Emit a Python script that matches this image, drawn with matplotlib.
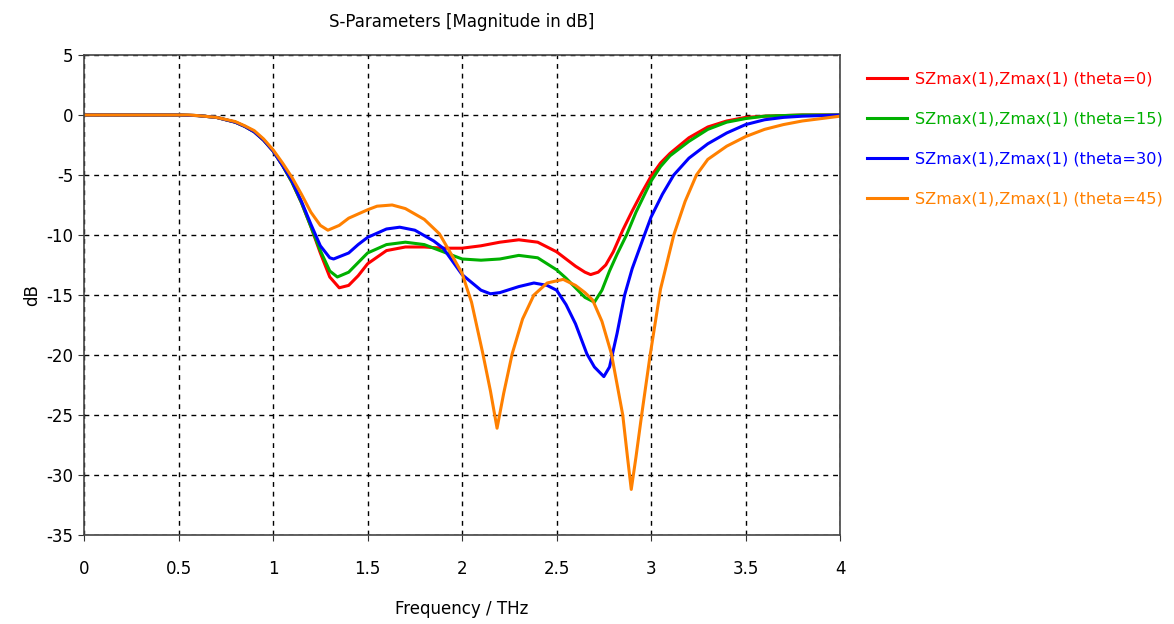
import matplotlib
matplotlib.use("Agg")
import matplotlib.pyplot as plt

# values (frequency in THz, magnitude in dB)
freq_t0 = [0, 0.5, 0.6, 0.7, 0.8, 0.85, 0.9, 0.95, 1.0, 1.05, 1.1, 1.15, 1.2, 1.25, 1.3, 1.35, 1.4, 1.45,
           1.5, 1.6, 1.7, 1.8, 1.9, 2.0, 2.1, 2.2, 2.3, 2.4, 2.5, 2.55, 2.6, 2.65, 2.68, 2.72,
           2.76, 2.8, 2.85, 2.9, 2.95, 3.0, 3.05, 3.1, 3.2, 3.3, 3.4, 3.5, 3.6, 3.8, 4.0]
db_t0 = [0, 0, -0.05, -0.2, -0.6, -0.95, -1.4, -2.1, -3.0, -4.2, -5.6, -7.3, -9.3, -11.5, -13.5, -14.4, -14.2, -13.4,
         -12.4, -11.3, -11.0, -11.0, -11.1, -11.1, -10.9, -10.6, -10.4, -10.6, -11.4, -12.0, -12.6, -13.1, -13.3, -13.1,
         -12.5, -11.4, -9.6, -8.0, -6.5, -5.1, -4.0, -3.2, -1.9, -1.0, -0.5, -0.2, -0.1, 0, 0]

freq_t15 = [0, 0.5, 0.6, 0.7, 0.8, 0.85, 0.9, 0.95, 1.0, 1.05, 1.1, 1.15, 1.2, 1.25, 1.3, 1.34, 1.4, 1.45,
            1.5, 1.6, 1.7, 1.8, 1.9, 2.0, 2.1, 2.2, 2.3, 2.4, 2.5, 2.55, 2.6, 2.65, 2.7, 2.74,
            2.78, 2.82, 2.87, 2.92, 2.96, 3.0, 3.05, 3.1, 3.2, 3.3, 3.4, 3.5, 3.6, 3.8, 4.0]
db_t15 = [0, 0, -0.05, -0.2, -0.6, -0.95, -1.4, -2.1, -3.0, -4.2, -5.6, -7.3, -9.3, -11.3, -13.0, -13.5, -13.1, -12.3,
          -11.5, -10.8, -10.6, -10.8, -11.4, -12.0, -12.1, -12.0, -11.7, -11.9, -12.9, -13.6, -14.4, -15.2, -15.6, -14.6,
          -13.0, -11.6, -10.0, -8.1, -6.8, -5.5, -4.3, -3.4, -2.2, -1.2, -0.6, -0.3, -0.1, 0, 0]

freq_t30 = [0, 0.5, 0.6, 0.7, 0.8, 0.85, 0.9, 0.95, 1.0, 1.05, 1.1, 1.15, 1.2, 1.25, 1.3, 1.32, 1.4, 1.45,
            1.5, 1.6, 1.67, 1.75, 1.85, 1.9, 2.0, 2.1, 2.15, 2.2, 2.3, 2.38, 2.45, 2.5, 2.55, 2.6,
            2.66, 2.7, 2.75, 2.78, 2.82, 2.86, 2.9, 2.96, 3.0, 3.06, 3.12, 3.2, 3.3, 3.4, 3.5, 3.6,
            3.7, 3.8, 4.0]
db_t30 = [0, 0, -0.05, -0.2, -0.6, -0.95, -1.4, -2.1, -3.0, -4.2, -5.5, -7.2, -9.1, -10.9, -11.9, -12.0, -11.5, -10.8,
          -10.2, -9.5, -9.35, -9.6, -10.5, -11.1, -13.3, -14.6, -14.9, -14.8, -14.3, -14.0, -14.2, -14.6, -15.8, -17.4,
          -19.9, -21.0, -21.8, -21.0, -18.2, -15.0, -12.8, -10.2, -8.5, -6.6, -5.0, -3.6, -2.4, -1.5, -0.8, -0.4,
          -0.2, -0.1, 0]

freq_t45 = [0, 0.55, 0.6, 0.7, 0.8, 0.85, 0.9, 0.95, 1.0, 1.05, 1.1, 1.15, 1.2, 1.25, 1.29, 1.35, 1.4, 1.5,
            1.55, 1.63, 1.7, 1.8, 1.88, 1.95, 2.0, 2.05, 2.11, 2.15, 2.185, 2.22, 2.265, 2.32, 2.38, 2.45,
            2.535, 2.6, 2.65, 2.69, 2.74, 2.79, 2.85, 2.875, 2.895, 2.92, 2.95, 2.995, 3.05, 3.12, 3.18, 3.24,
            3.3, 3.4, 3.5, 3.6, 3.7, 3.8, 3.9, 4.0]
db_t45 = [0, 0, -0.05, -0.2, -0.55, -0.9, -1.3, -2.0, -2.9, -4.0, -5.2, -6.6, -8.1, -9.2, -9.6, -9.2, -8.6, -7.9,
          -7.6, -7.5, -7.8, -8.7, -9.9, -11.8, -13.2, -15.6, -19.9, -23.0, -26.1, -23.2, -19.9, -17.0, -15.0, -14.0,
          -13.7, -14.2, -14.8, -15.4, -17.2, -19.9, -25.0, -28.5, -31.2, -28.5, -25.0, -20.0, -14.5, -10.0, -7.2, -5.0,
          -3.7, -2.6, -1.8, -1.2, -0.8, -0.5, -0.3, -0.1]

labels = ["SZmax(1),Zmax(1) (theta=0)", "SZmax(1),Zmax(1) (theta=15)",
          "SZmax(1),Zmax(1) (theta=30)", "SZmax(1),Zmax(1) (theta=45)"]
colors = ["#ff0000", "#00b000", "#0000ff", "#ff8000"]

x_ticks = [0, 0.5, 1, 1.5, 2, 2.5, 3, 3.5, 4]
x_tick_labels = ["0", "0.5", "1", "1.5", "2", "2.5", "3", "3.5", "4"]
y_ticks = [5, 0, -5, -10, -15, -20, -25, -30, -35]

plt.rcParams['font.family'] = ['DejaVu Sans']
plt.rcParams['axes.unicode_minus'] = False

fig = plt.figure(figsize=(11.74, 6.24), dpi=100)
ax = fig.add_axes([0.0716, 0.1426, 0.644, 0.7693])

series = [(freq_t0, db_t0), (freq_t15, db_t15), (freq_t30, db_t30), (freq_t45, db_t45)]
for (f, d), lab, c in zip(series, labels, colors):
    ax.plot(f, d, color=c, lw=2.2, label=lab)

ax.set_xlim(0, 4)
ax.set_ylim(-35, 5)
ax.set_xticks(x_ticks)
ax.set_xticklabels(x_tick_labels)
ax.set_yticks(y_ticks)
ax.tick_params(labelsize=12, length=4, color="#333333")
ax.tick_params(axis="x", pad=14)
ax.grid(True, color="black", linestyle=(0, (3.5, 3.5)), linewidth=1)
for sp in ax.spines.values():
    sp.set_color("#444444")
    sp.set_linewidth(1.2)

ax.set_title("S-Parameters [Magnitude in dB]", fontsize=12, pad=20)
ax.set_xlabel("Frequency / THz", fontsize=12, labelpad=16)
ax.set_ylabel("dB", fontsize=12)

ax.legend(loc="upper left", bbox_to_anchor=(1.027, 0.978), frameon=False,
          labelcolor="linecolor", fontsize=11.6, handlelength=2.5,
          handletextpad=0.5, labelspacing=1.55, borderaxespad=0)

fig.savefig("out.png", dpi=100)
